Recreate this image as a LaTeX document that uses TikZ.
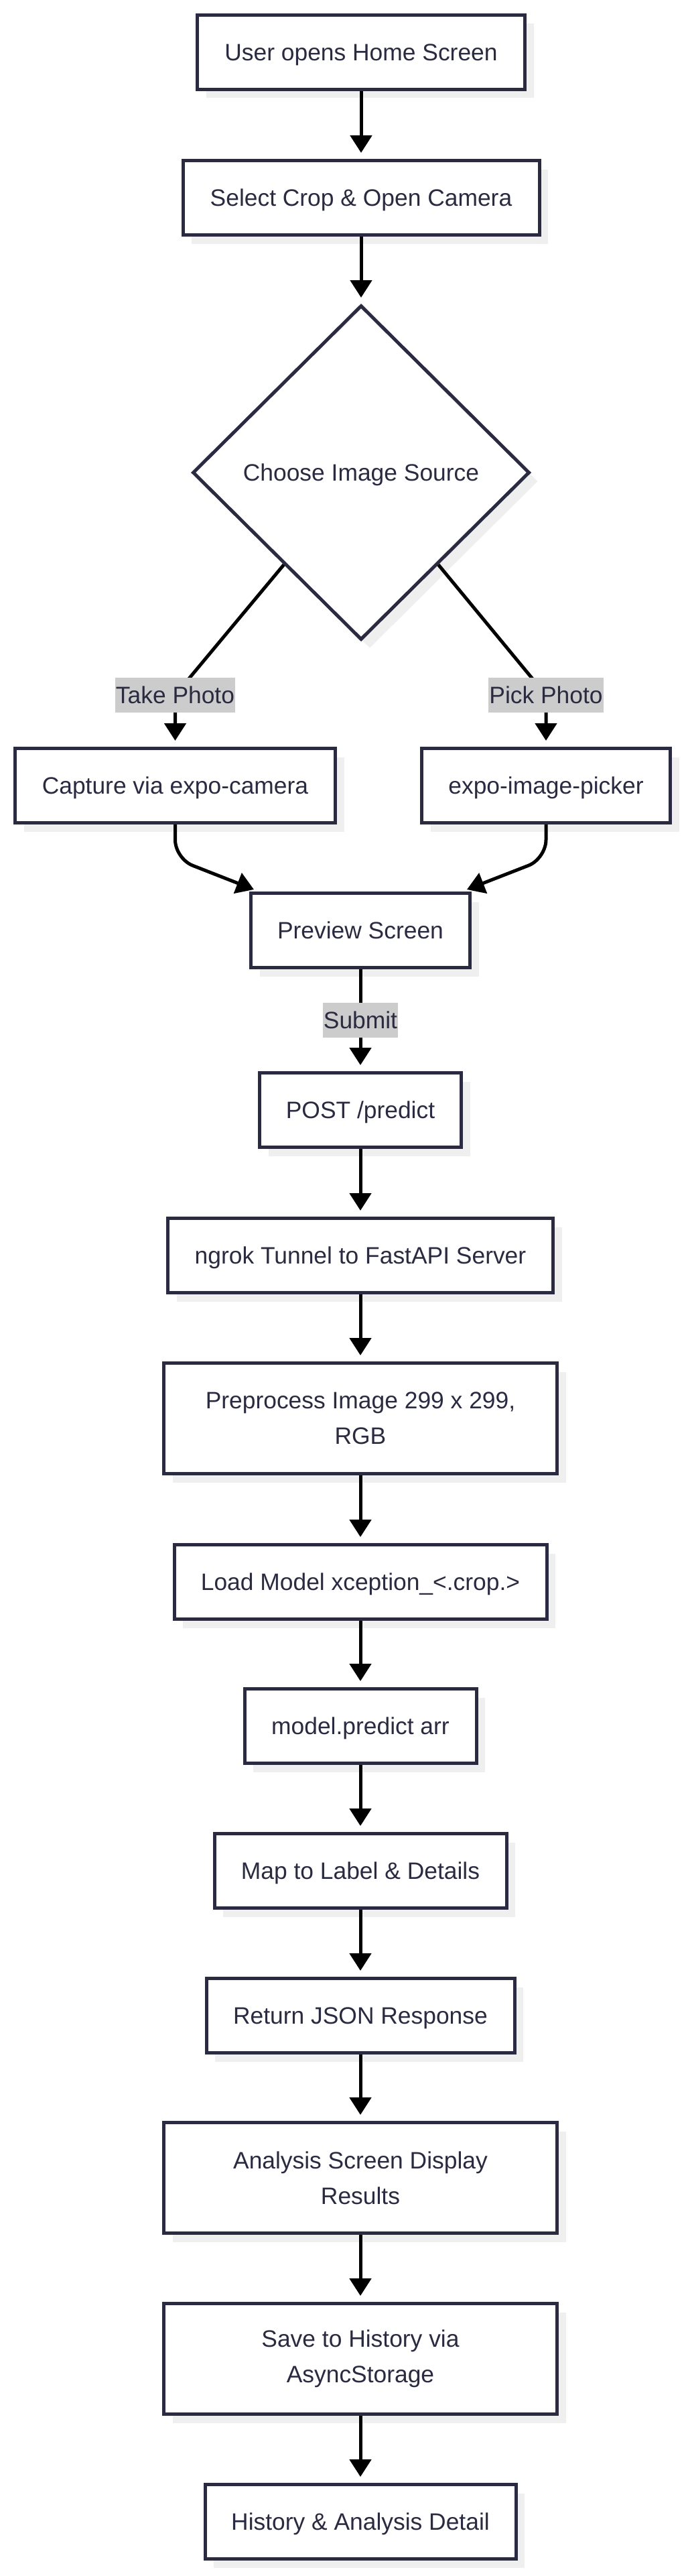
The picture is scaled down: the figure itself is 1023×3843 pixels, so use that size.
\documentclass[tikz,border=0pt]{standalone}
\usepackage{fontspec}
\setmainfont{Liberation Sans}
\usetikzlibrary{shapes.geometric,arrows.meta,shadows}
\definecolor{ink}{RGB}{42,42,64}
\definecolor{shade}{RGB}{239,239,239}
\definecolor{lblbg}{RGB}{204,204,204}
\tikzset{
  box/.style={draw=ink, line width=5pt, fill=white, text=ink,
    font=\fontsize{35.4}{53}\selectfont, align=center, inner sep=0pt,
    minimum height=111pt,
    drop shadow={shadow xshift=13pt, shadow yshift=-13pt, fill=shade, opacity=1}},
  onebox/.style={box, text depth=0pt},
  twobox/.style={box, minimum height=165pt},
  decision/.style={diamond, aspect=1, draw=ink, line width=5pt, fill=white, text=ink,
    font=\fontsize{35.4}{53}\selectfont, inner sep=0pt, text depth=0pt,
    minimum width=503pt, minimum height=499pt,
    drop shadow={shadow xshift=13pt, shadow yshift=-13pt, fill=shade, opacity=1}},
  lbl/.style={fill=lblbg, text=ink, font=\fontsize{35.4}{42}\selectfont,
    inner xsep=1pt, inner ysep=0pt, minimum height=52pt},
  flow/.style={draw=black, line width=5pt, -{Triangle[width=32pt,length=26pt]}, shorten >=9pt},
}
\begin{document}
\begin{tikzpicture}[x=1pt,y=-1pt]
\fill[white] (0,0) rectangle (1023,3843);
\useasboundingbox (0,0) rectangle (1023,3843);

\node[onebox, minimum width=489pt] (n1) at (539,78) {User opens Home Screen};
\node[onebox, minimum width=532pt] (n2) at (539,295) {Select Crop \& Open Camera};
\node[decision] (dia) at (539,705) {Choose Image Source};
\node[onebox, minimum width=478pt] (cap) at (261.5,1172) {Capture via expo-camera};
\node[onebox, minimum width=371pt] (pick) at (815,1172) {expo-image-picker};
\node[onebox, minimum width=327pt] (prev) at (538,1388) {Preview Screen};
\node[onebox, minimum width=301pt] (post) at (538,1656) {POST /predict};
\node[onebox, minimum width=575pt] (ngrok) at (538,1873) {ngrok Tunnel to FastAPI Server};
\node[twobox, minimum width=587pt] (pre) at (538,2116) {Preprocess Image 299 x 299,\\RGB};
\node[onebox, minimum width=556pt] (load) at (538,2360) {Load Model xception\_<.crop.>};
\node[onebox, minimum width=346pt] (mp) at (538,2575) {model.predict arr};
\node[onebox, minimum width=436pt] (map) at (538,2791) {Map to Label \& Details};
\node[onebox, minimum width=460pt] (ret) at (538,3007) {Return JSON Response};
\node[twobox, minimum width=587pt] (ana) at (538,3249) {Analysis Screen Display\\Results};
\node[twobox, minimum width=587pt] (save) at (538,3519) {Save to History via\\AsyncStorage};
\node[onebox, minimum width=464pt] (hist) at (538,3762) {History \& Analysis Detail};

\coordinate (cl) at (261.5,1037);
\coordinate (cr) at (815,1037);
\coordinate (jl) at (261.5,1281);
\coordinate (jr) at (815,1281);
\coordinate (tl) at (379,1327);
\coordinate (tr) at (697,1327);

\draw[flow] (n1.south) -- (n1.south |- n2.north);
\draw[flow] (n2.south) -- (n2.south |- dia.north);
\draw[flow] (dia.230) -- (cl) -- (cap.north);
\draw[flow] (dia.-50) -- (cr) -- (pick.north);
\draw[flow, shorten >=0pt, rounded corners=28pt] (cap.south) -- (jl) -- (tl);
\draw[flow, shorten >=0pt, rounded corners=28pt] (pick.south) -- (jr) -- (tr);
\draw[flow] (prev.south) -- (post.north);
\draw[flow] (post.south) -- (ngrok.north);
\draw[flow] (ngrok.south) -- (pre.north);
\draw[flow] (pre.south) -- (load.north);
\draw[flow] (load.south) -- (mp.north);
\draw[flow] (mp.south) -- (map.north);
\draw[flow] (map.south) -- (ret.north);
\draw[flow] (ret.south) -- (ana.north);
\draw[flow] (ana.south) -- (save.north);
\draw[flow] (save.south) -- (hist.north);

\node[lbl] (lt) at (cl) {Take Photo};
\node[lbl] (lp) at (cr) {Pick Photo};
\node[lbl] (ls) at (538,1522) {Submit};
\end{tikzpicture}
\end{document}
